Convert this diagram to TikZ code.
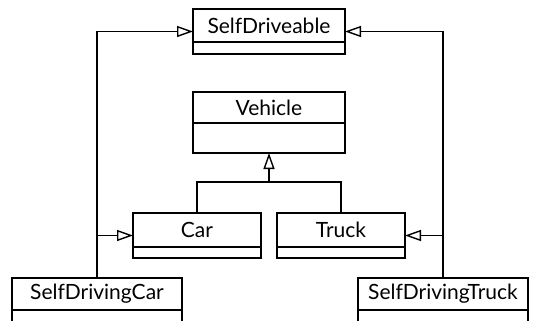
\documentclass[tikz,border=0pt]{standalone}
\usepackage{fontspec}
\setmainfont{Lato}
\usetikzlibrary{arrows.meta}
\tikzset{
  x=1pt, y=-1pt,
  line/.style={line width=1.4pt, line join=miter},
  classbox/.style={line, draw, fill=white, rectangle, inner sep=0pt, outer sep=0pt},
  titlebox/.style={line, draw, rectangle, inner sep=0pt, outer sep=0pt, anchor=north,
    font=\fontsize{21}{24}\selectfont},
  gen/.style={line, -{Triangle[open, length=16pt, width=11pt, line width=1.4pt]}},
}
\begin{document}
\begin{tikzpicture}
\useasboundingbox (0,0) rectangle (533,321);
\clip (0,0) rectangle (533,321);
\fill[white] (0,0) rectangle (533,321);

% SelfDriveable
\node[classbox, minimum width=152pt, minimum height=45pt] (sd) at (269,31.5) {};
\node[titlebox, minimum width=152pt, minimum height=33pt] (sdT) at (sd.north) {SelfDriveable};
% Vehicle
\node[classbox, minimum width=152pt, minimum height=61pt] (veh) at (269,122.5) {};
\node[titlebox, minimum width=152pt, minimum height=31pt] (vehT) at (veh.north) {Vehicle};
% Car
\node[classbox, minimum width=128pt, minimum height=45pt] (car) at (197,235.5) {};
\node[titlebox, minimum width=128pt, minimum height=34pt] (carT) at (car.north) {Car};
% Truck
\node[classbox, minimum width=128pt, minimum height=45pt] (truck) at (341,235.5) {};
\node[titlebox, minimum width=128pt, minimum height=34pt] (truckT) at (truck.north) {Truck};
% SelfDrivingCar
\node[classbox, minimum width=170pt, minimum height=52pt] (sdc) at (97,304) {};
\node[titlebox, minimum width=170pt, minimum height=32pt] (sdcT) at (sdc.north) {SelfDrivingCar};
% SelfDrivingTruck
\node[classbox, minimum width=170pt, minimum height=52pt] (sdtr) at (443,304) {};
\node[titlebox, minimum width=170pt, minimum height=32pt] (sdtrT) at (sdtr.north) {SelfDrivingTruck};

% Vehicle generalization
\coordinate (j) at (269,182);
\draw[line] (car.north) |- (j);
\draw[line] (truck.north) |- (j);
\draw[gen] (j) -- (veh.south);

% SelfDriveable realizations
\draw[gen] (sdc.north) |- (sd.west);
\draw[gen] (sdtr.north) |- (sd.east);
\draw[gen] (sdc.north |- car.west) -- (car.west);
\draw[gen] (sdtr.north |- truck.east) -- (truck.east);
\end{tikzpicture}
\end{document}
